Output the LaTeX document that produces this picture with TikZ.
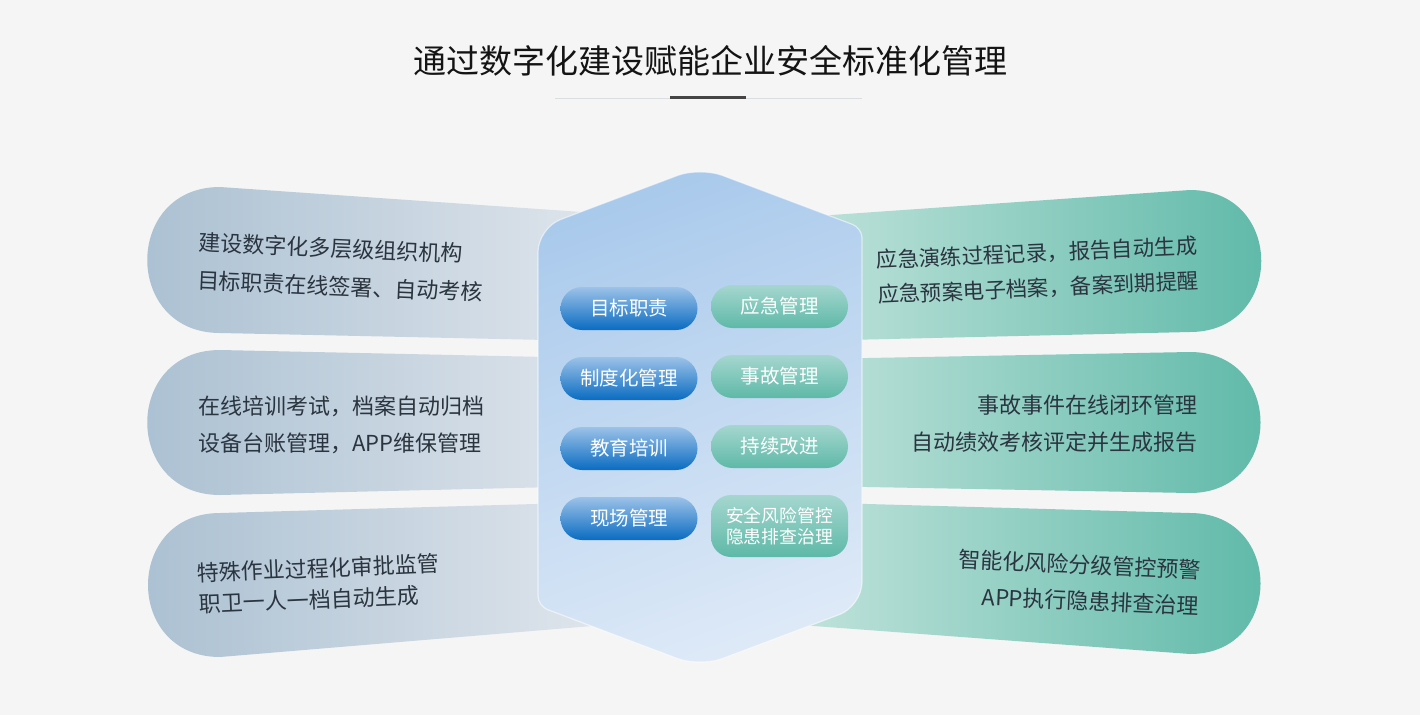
\documentclass[tikz,border=0pt]{standalone}
\usepackage{fontspec}
\setmainfont{Noto Sans CJK SC}
\definecolor{bg}{HTML}{F5F5F5}
\definecolor{titlec}{HTML}{141414}
\definecolor{lineL}{HTML}{D9DEE3}
\definecolor{lineD}{HTML}{454545}
\definecolor{lbA}{HTML}{A9BFD1}
\definecolor{lbB}{HTML}{E3E8EE}
\definecolor{rbA}{HTML}{C8E6DF}
\definecolor{rbM}{HTML}{86C9BB}
\definecolor{rbB}{HTML}{5CB8A7}
\definecolor{hexA}{HTML}{AACAEC}
\definecolor{hexB}{HTML}{DDE9F7}
\definecolor{pbA}{HTML}{9CC2E8}
\definecolor{pbB}{HTML}{0A6CC1}
\definecolor{pgA}{HTML}{A5D6CF}
\definecolor{pgB}{HTML}{5EB9A7}
\definecolor{txt}{HTML}{2B3540}
\tikzset{
  leftblob/.style={left color=lbA, right color=lbB},
  rightblob/.style={left color=rbA, middle color=rbM, right color=rbB},
  pill/.style={minimum width=137pt, minimum height=43pt, rounded corners=21.5pt,
     inner sep=0pt, text=white, font=\fontsize{19.5}{22}\selectfont},
  bluepill/.style={pill, top color=pbA, bottom color=pbB},
  greenpill/.style={pill, top color=pgA, bottom color=pgB},
  blobtext/.style={text=txt, inner sep=0pt},
}
\begin{document}
\begin{tikzpicture}[x=1pt,y=-1pt]
\useasboundingbox (0,0) rectangle (1420,715);
\fill[bg] (0,0) rectangle (1420,715);

% title
\node[text=titlec, font=\fontsize{33}{36}\selectfont, inner sep=0pt] (title) at (710,61) {通过数字化建设赋能企业安全标准化管理};
\coordinate (divL) at (555,98);
\coordinate (divR) at (862,98);
\coordinate (dkL) at (670,97.5);
\coordinate (dkR) at (746,97.5);
\draw[lineL, line width=1pt] (divL) -- (divR);
\draw[lineD, line width=3pt] (dkL) -- (dkR);

% left blobs
\path[leftblob] (640,216) -- (220,187) .. controls (123,187) and (123,333) .. (220,333) -- (640,342) -- cycle;
\path[leftblob] (640,359) -- (220,350) .. controls (123,350) and (123,495) .. (220,495) -- (640,485) -- cycle;
\path[leftblob] (640,501) -- (220,513) .. controls (124,513) and (124,657) .. (220,657) -- (640,622) -- cycle;

% right blobs
\path[rightblob] (760,220) -- (1190,190) .. controls (1285,190) and (1285,332) .. (1190,332) -- (760,342) -- cycle;
\path[rightblob] (760,360) -- (1190,352) .. controls (1284,352) and (1284,493) .. (1190,493) -- (760,485) -- cycle;
\path[rightblob] (760,501) -- (1190,513) .. controls (1284,513) and (1284,654) .. (1190,654) -- (760,622) -- cycle;

% blob texts
\node[blobtext, anchor=west, rotate=-2.5, align=left, font=\fontsize{22}{38}\selectfont] (t1) at (198,261) {建设数字化多层级组织机构\\目标职责在线签署、自动考核};
\node[blobtext, anchor=west, align=left, font=\fontsize{22}{37}\selectfont] (t2) at (198,424.5) {在线培训考试，档案自动归档\\设备台账管理，APP维保管理};
\node[blobtext, anchor=west, rotate=2.5, align=left, font=\fontsize{22}{31}\selectfont] (t3) at (198,589) {特殊作业过程化审批监管\\职卫一人一档自动生成};
\node[blobtext, anchor=east, rotate=2.5, align=right, font=\fontsize{21.4}{35}\selectfont] (t4) at (1198,263.5) {应急演练过程记录，报告自动生成\\应急预案电子档案，备案到期提醒};
\node[blobtext, anchor=east, align=right, font=\fontsize{22}{37}\selectfont] (t5) at (1198,424) {事故事件在线闭环管理\\自动绩效考核评定并生成报告};
\node[blobtext, anchor=east, rotate=-2.5, align=right, font=\fontsize{22}{36.5}\selectfont] (t6) at (1200,588) {智能化风险分级管控预警\\APP执行隐患排查治理};

% central hexagon
\path[top color=hexA, bottom color=hexB, shading angle=20]
  (538,400) [rounded corners=24pt] -- (538,228) -- (700,167) [rounded corners=10pt] -- (862,228)
  [rounded corners=24pt] -- (862,606) -- (700,667) [rounded corners=10pt] -- (538,606)
  [rounded corners=24pt] -- cycle;
\draw[white, opacity=0.55, line width=1.2pt]
  (538,400) [rounded corners=24pt] -- (538,228) -- (700,167) [rounded corners=10pt] -- (862,228)
  [rounded corners=24pt] -- (862,606) -- (700,667) [rounded corners=10pt] -- (538,606)
  [rounded corners=24pt] -- cycle;

% pills
\node[bluepill] (p1) at (629,308.5) {目标职责};
\node[bluepill] (p2) at (629,378.5) {制度化管理};
\node[bluepill] (p3) at (629,448.5) {教育培训};
\node[bluepill] (p4) at (629,518.5) {现场管理};
\node[greenpill] (g1) at (779.5,306.5) {应急管理};
\node[greenpill] (g2) at (779.5,376.5) {事故管理};
\node[greenpill] (g3) at (779.5,446.5) {持续改进};
\node[greenpill, minimum height=62pt, rounded corners=20pt, align=center,
      font=\fontsize{17.8}{21.5}\selectfont] (g4) at (779.5,526) {安全风险管控\\隐患排查治理};
\end{tikzpicture}
\end{document}
